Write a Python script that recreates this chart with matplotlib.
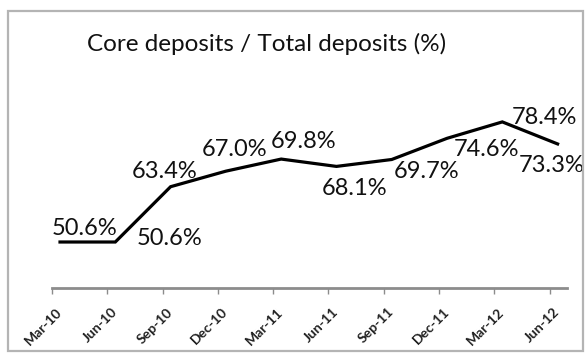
import matplotlib
matplotlib.use("Agg")
import matplotlib.pyplot as plt
from matplotlib.patches import Rectangle

# Quarter-end periods and core/total deposit ratio (%)
periods = ["Mar-10", "Jun-10", "Sep-10", "Dec-10", "Mar-11",
           "Jun-11", "Sep-11", "Dec-11", "Mar-12", "Jun-12"]
ratio = [50.6, 50.6, 63.4, 67.0, 69.8, 68.1, 69.7, 74.6, 78.4, 73.3]

# Label offsets from each point, in pixels (dx, dy)
label_offsets = [(25, 14), (54, 4), (-6, 15), (9, 22), (22, 18),
                 (18, -22), (35, -12), (39, -11), (42, 4), (-6, -22)]

plt.rcParams["font.family"] = ["Lato", "DejaVu Sans"]

fig = plt.figure(figsize=(5.85, 3.53), dpi=100)
fig.patch.set_facecolor("white")

# chart frame
fig.patches.append(Rectangle((8 / 585, 1 - 351 / 353), 575 / 585, 340 / 353,
                             transform=fig.transFigure, fill=False,
                             edgecolor="#b4b4b4", linewidth=1.6))

ax = fig.add_axes([52 / 585, 1 - 287.8 / 353, 515 / 585, 172.8 / 353])
x = list(range(len(periods)))
ax.plot(x, ratio, color="black", linewidth=2.3, solid_joinstyle="miter",
        clip_on=False)

for xi, v, (dx, dy) in zip(x, ratio, label_offsets):
    ax.annotate(f"{v:.1f}%", (xi, v), xytext=(dx, dy),
                textcoords="offset pixels", ha="center", va="center",
                fontsize=17, color="#111111")

ax.set_xlim(-0.145, 9.17)
ax.set_ylim(40, 80)

for s in ("top", "right", "left"):
    ax.spines[s].set_visible(False)
ax.spines["bottom"].set_color("#8c8c8c")
ax.spines["bottom"].set_linewidth(2.0)
ax.set_yticks([])

ax.set_xticks(x)
ax.set_xticklabels(periods, rotation=45, ha="right", va="center",
                   rotation_mode="anchor", fontsize=10, fontweight="bold",
                   color="#222222")
ax.tick_params(axis="x", which="major", length=0, pad=16)
ax.set_xticks([xi - 0.145 for xi in x], minor=True)
ax.tick_params(axis="x", which="minor", length=4, width=1.0, color="#8c8c8c")

fig.text(267 / 585, 1 - 44 / 353, "Core deposits / Total deposits (%)",
         ha="center", va="center", fontsize=17.5, color="#111111")

fig.savefig("out.png", dpi=100, facecolor="white")
